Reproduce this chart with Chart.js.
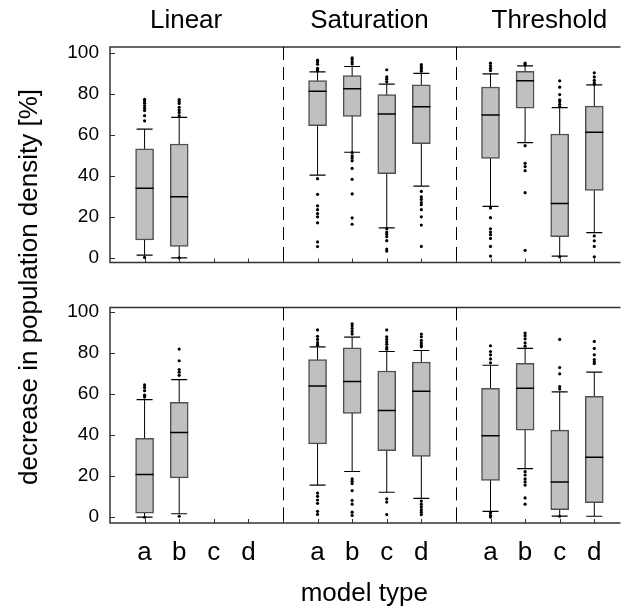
<!DOCTYPE html>
<html>
<head>
<meta charset="utf-8">
<script src="https://cdn.jsdelivr.net/npm/chart.js@4"></script>
<style>
  body { margin: 0; background: #fff; }
  #wrap { position: relative; width: 629px; height: 613px; font-family: "Liberation Sans", Arial, sans-serif; }
  canvas { position: absolute; left: 0; }
  #top { top: 0; }
  #bottom { top: 285px; }
  #ytitle { position: absolute; left: 28px; top: 287px; transform: translate(-50%, -50%) rotate(-90deg);
            font-size: 26px; line-height: 26px; white-space: nowrap; color: #000; }
</style>
</head>
<body>
<div id="wrap">
  <canvas id="top" width="629" height="285"></canvas>
  <canvas id="bottom" width="629" height="328"></canvas>
  <div id="ytitle">decrease in population density [%]</div>
</div>
<script>
// categories
const groups = ["Linear", "Saturation", "Threshold"];
const modelTypes = ["a", "b", "c", "d"];
const yTicks = [0, 20, 40, 60, 80, 100];

// top panel, order: Linear a-d, Saturation a-d, Threshold a-d
const topLow    = [1.3, 0.0, null, null, 40.3, 51.5, 14.6, 35.0, 25.1, 56.2, 0.9, 12.3];
const topQ1     = [8.7, 5.6, null, null, 64.5, 69.0, 41.1, 55.7, 48.5, 73.0, 10.3, 32.9];
const topMedian = [34.0, 29.8, null, null, 81.2, 82.4, 70.1, 73.7, 69.6, 86.3, 26.5, 61.2];
const topQ3     = [53.1, 55.5, null, null, 86.4, 88.9, 79.6, 84.3, 83.3, 91.0, 60.4, 74.0];
const topHigh   = [62.8, 68.5, null, null, 90.7, 93.3, 84.7, 89.9, 89.7, 93.6, 73.2, 84.3];
const topOutliers = [
  [77.3, 76.5, 75.4, 74.1, 72.9, 71.8, 69.3, 66.8, 0.2],
  [77.1, 76.2, 75.2, 73.4, 72.1, 70.9, 69.3, 0.0],
  null, null,
  [96.4, 95.5, 94.4, 92.4, 91.7, 91.1, 38.6, 31.0, 25.4, 23.5, 21.6, 20.0, 17.1, 7.8, 5.5],
  [97.5, 96.7, 95.5, 94.5, 51.3, 49.7, 48.6, 47.3, 43.6, 38.3, 31.2, 19.5, 16.4],
  [91.7, 88.2, 87.1, 85.8, 14.2, 12.6, 11.5, 10.3, 8.4, 4.3, 3.3],
  [94.2, 93.1, 92.1, 91.0, 32.4, 29.8, 28.5, 27.0, 25.9, 23.5, 20.0, 16.0, 5.6],
  [94.9, 93.6, 92.4, 91.3, 24.3, 19.6, 14.2, 12.6, 11.3, 9.5, 5.6, 0.9],
  [94.9, 94.2, 54.7, 46.1, 44.5, 42.5, 31.8, 3.7],
  [86.3, 83.2, 79.6, 77.0, 76.2, 74.9, 73.8, 0.5],
  [90.2, 88.2, 86.6, 85.4, 84.6, 10.7, 8.3, 5.6, 0.5]
];

// bottom panel
const botLow    = [0.1, 1.7, null, null, 15.7, 22.3, 12.2, 9.2, 2.9, 23.7, 0.6, 0.5];
const botQ1     = [2.0, 19.2, null, null, 35.8, 50.6, 32.4, 29.6, 18.0, 42.5, 3.7, 7.1];
const botMedian = [20.8, 41.3, null, null, 64.0, 66.2, 52.1, 61.4, 39.7, 62.9, 17.2, 29.2];
const botQ3     = [38.5, 56.0, null, null, 76.9, 82.6, 71.3, 75.7, 62.9, 75.0, 42.5, 58.9];
const botHigh   = [57.3, 67.1, null, null, 83.1, 87.8, 80.8, 81.3, 74.1, 82.3, 61.1, 70.7];
const botOutliers = [
  [64.5, 63.3, 61.7, 59.5, 58.6, 0.0],
  [82.0, 76.3, 72.0, 70.7, 69.2, 0.5],
  null, null,
  [91.3, 88.2, 86.7, 85.1, 83.9, 11.8, 10.2, 8.4, 6.8, 2.9, 1.4],
  [94.3, 93.2, 92.0, 90.6, 89.3, 18.7, 17.5, 16.4, 13.0, 8.2, 6.4, 2.5, 0.9],
  [91.3, 88.0, 86.7, 85.4, 84.3, 82.8, 81.9, 9.0, 7.4, 1.3],
  [89.3, 88.0, 86.2, 85.0, 83.9, 83.1, 7.9, 6.4, 5.1, 3.7, 2.5, 1.3],
  [83.6, 80.8, 79.2, 77.2, 75.3, 2.2, 0.9, 0.1],
  [89.8, 88.5, 87.0, 85.0, 83.4, 22.2, 20.6, 18.7, 17.2, 15.7, 9.4, 6.4],
  [86.7, 73.0, 69.9, 63.7, 62.5, 0.5],
  [85.7, 82.3, 79.2, 76.9, 75.8, 74.9]
];

const FONT = "'Liberation Sans', Arial, sans-serif";
const titleAt = [2.2, 7.5, 12.7];   // x position of group titles
const xMax = 14.7;                  // right edge is cut off in the original

// slot on the x axis: 4 boxes per group, one empty slot between groups
function slot(i) {
  return Math.floor(i / 4) * 5 + (i % 4) + 1;
}

function boxDatasets(lo, q1, med, q3, hi, outl) {
  const boxes = [], whisk = [], caps = [], meds = [], dots = [];
  q1.forEach((v, i) => {
    if (v === null) return;
    const x = slot(i);
    boxes.push({ x: x, y: [q1[i], q3[i]] });
    whisk.push({ x: x, y: lo[i] }, { x: x, y: hi[i] }, { x: x, y: null });
    caps.push({ x: x, y: lo[i] }, { x: x, y: hi[i] });
    meds.push({ x: x, y: med[i] });
    outl[i].forEach(o => dots.push({ x: x, y: o }));
  });
  return [
    { type: "line", data: whisk, borderColor: "#000", borderWidth: 1, pointRadius: 0, spanGaps: false, order: 4 },
    { type: "bar", data: boxes, backgroundColor: "#c0c0c0", borderColor: "#505050", borderWidth: 1.5,
      borderSkipped: false, barThickness: 18, grouped: false, order: 3 },
    { type: "scatter", data: caps, pointStyle: "line", pointRadius: 8, pointBorderColor: "#000", pointBorderWidth: 1.2, order: 2 },
    { type: "scatter", data: meds, pointStyle: "line", pointRadius: 9, pointBorderColor: "#000", pointBorderWidth: 1.5, order: 2 },
    { type: "scatter", data: dots, pointStyle: "circle", pointRadius: 1.6, pointBackgroundColor: "#000", pointBorderWidth: 0, order: 1 }
  ];
}

// frame with inward ticks and dashed group separators
const framePlugin = {
  id: "frame",
  afterDraw(chart) {
    const { ctx, chartArea: a } = chart;
    const x = chart.scales.x, y = chart.scales.y;
    ctx.save();
    ctx.strokeStyle = "#333";
    ctx.lineWidth = 1.5;
    ctx.beginPath();
    ctx.moveTo(a.right + 2, a.top);
    ctx.lineTo(a.left, a.top);
    ctx.lineTo(a.left, a.bottom);
    ctx.lineTo(a.right + 2, a.bottom);
    ctx.stroke();
    ctx.lineWidth = 1;
    ctx.beginPath();
    y.ticks.forEach(t => {
      const py = Math.round(y.getPixelForValue(t.value)) + 0.5;
      ctx.moveTo(a.left, py);
      ctx.lineTo(a.left + 5, py);
    });
    x.ticks.forEach(t => {
      if (t.value === 0) return;
      const px = Math.round(x.getPixelForValue(t.value)) + 0.5;
      ctx.moveTo(px, a.bottom);
      ctx.lineTo(px, a.bottom - 4);
    });
    ctx.stroke();
    ctx.strokeStyle = "#000";
    ctx.setLineDash([13, 7]);
    ctx.beginPath();
    [5, 10].forEach(v => {
      const px = Math.round(x.getPixelForValue(v)) + 0.5;
      ctx.moveTo(px, a.top);
      ctx.lineTo(px, a.bottom);
    });
    ctx.stroke();
    ctx.restore();
  }
};

const groupTitles = {
  id: "groupTitles",
  afterDraw(chart) {
    const { ctx } = chart;
    const x = chart.scales.x;
    ctx.save();
    ctx.fillStyle = "#000";
    ctx.font = "26px " + FONT;
    ctx.textAlign = "center";
    ctx.textBaseline = "alphabetic";
    groups.forEach((g, i) => ctx.fillText(g, x.getPixelForValue(titleAt[i]), 28));
    ctx.restore();
  }
};

function makeOptions(yMin, yMax, bottomPanel) {
  return {
    responsive: false,
    animation: false,
    events: [],
    layout: { padding: { top: bottomPanel ? 12 : 47, left: 0, right: 0, bottom: 0 } },
    plugins: { legend: { display: false }, tooltip: { enabled: false } },
    scales: {
      x: {
        type: "linear",
        min: 0,
        max: xMax,
        offset: false,
        grid: { display: false, drawTicks: false },
        border: { display: false },
        afterBuildTicks: s => { s.ticks = Array.from({ length: 15 }, (_, i) => ({ value: i })); },
        afterFit: s => { s.height = bottomPanel ? 90 : 13; },
        ticks: {
          display: bottomPanel,
          autoSkip: false,
          maxRotation: 0,
          padding: 14,
          color: "#000",
          font: { family: FONT, size: 26 },
          callback: v => (v % 5 === 0 ? "" : modelTypes[(v % 5) - 1])
        },
        title: {
          display: bottomPanel,
          text: "model type",
          color: "#000",
          font: { family: FONT, size: 26 },
          padding: { top: 0, bottom: 4 }
        }
      },
      y: {
        min: yMin,
        max: yMax,
        grid: { display: false, drawTicks: false },
        border: { display: false },
        afterBuildTicks: s => { s.ticks = yTicks.map(v => ({ value: v })); },
        afterFit: s => { s.width = 110; },
        ticks: { padding: 11, color: "#000", font: { family: FONT, size: 19 } }
      }
    }
  };
}

new Chart(document.getElementById("top"), {
  type: "bar",
  data: { datasets: boxDatasets(topLow, topQ1, topMedian, topQ3, topHigh, topOutliers) },
  options: makeOptions(-2.3, 102.8, false),
  plugins: [framePlugin, groupTitles]
});

new Chart(document.getElementById("bottom"), {
  type: "bar",
  data: { datasets: boxDatasets(botLow, botQ1, botMedian, botQ3, botHigh, botOutliers) },
  options: makeOptions(-2.8, 102.3, true),
  plugins: [framePlugin]
});
</script>
</body>
</html>
